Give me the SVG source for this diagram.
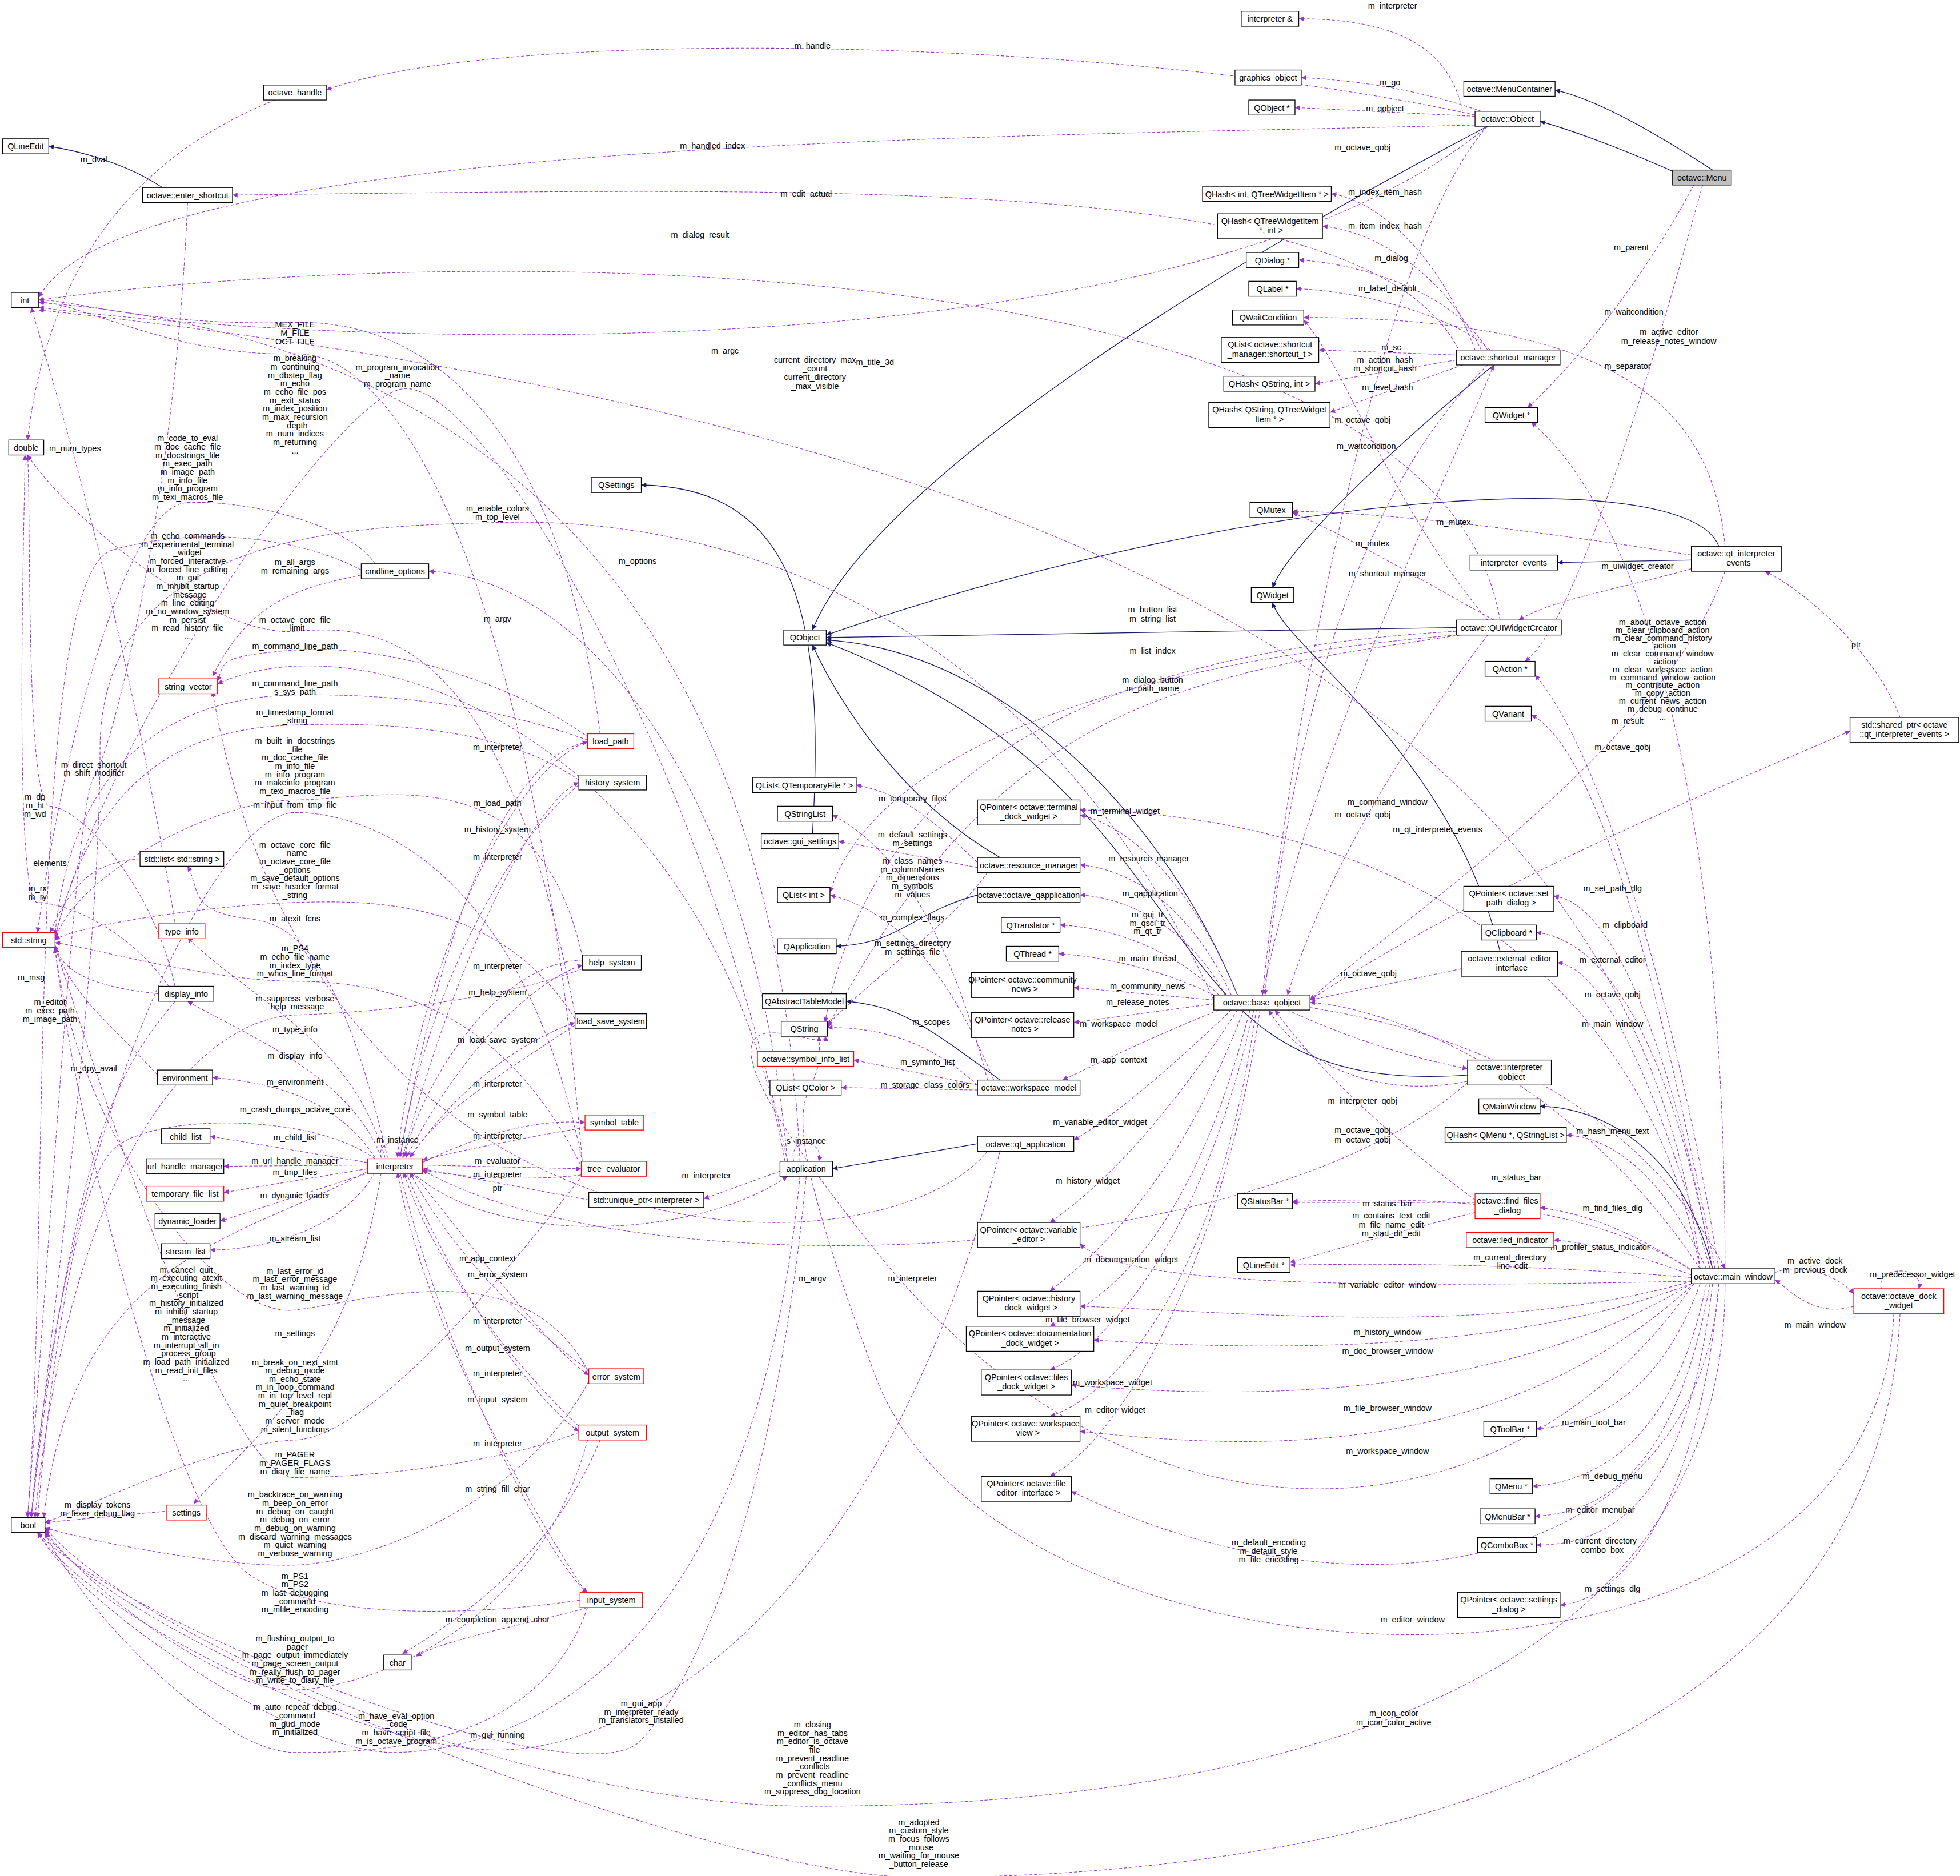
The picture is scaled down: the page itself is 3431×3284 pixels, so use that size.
<svg xmlns="http://www.w3.org/2000/svg" width="3431" height="3284" viewBox="0 0 3431 3284">
<style>
.n rect{fill:#fff;stroke:#000;stroke-width:0.6}
.n.r rect{stroke:#f00}
.n.g rect{fill:#bfbfbf}
text{font-family:"Liberation Sans",Arial,sans-serif;font-size:6.6px;text-anchor:middle;fill:#000}
.e path{fill:none;stroke:#9a32cd;stroke-width:0.5;stroke-dasharray:2.5,1.5;marker-end:url(#ap)}
.s path{fill:none;stroke:#191970;stroke-width:0.6;marker-end:url(#an)}
</style>
<defs>
<marker id="ap" viewBox="0 0 10 10" refX="10" refY="5" markerUnits="userSpaceOnUse" markerWidth="5" markerHeight="4" orient="auto"><path d="M0,0L10,5L0,10z" fill="#9a32cd"/></marker>
<marker id="an" viewBox="0 0 10 10" refX="10" refY="5" markerUnits="userSpaceOnUse" markerWidth="5" markerHeight="4" orient="auto"><path d="M0,0L10,5L0,10z" fill="#191970"/></marker>
</defs>
<rect width="3431" height="3284" fill="#fff"/>
<g transform="scale(2.1882)">
<g id="connectors">
<g class="s">
<path d="M1370,136 C1330,110 1280,80 1244,72"/>
<path d="M1345,140 C1300,120 1260,105 1232,97"/>
<path d="M1190,101 C1000,200 700,380 650,504"/>
<path d="M1353,448 L1246,450"/>
<path d="M1375,437 C1350,370 1000,390 661,508"/>
<path d="M1195,292 C1100,370 1030,440 1018,470"/>
<path d="M1165,502 L661,510"/>
<path d="M800,686 C720,640 670,560 650,516"/>
<path d="M650,667 C660,500 640,390 513,388"/>
<path d="M782,716 C730,730 720,755 669,757"/>
<path d="M800,864 C740,820 720,805 677,801"/>
<path d="M990,796 C930,650 800,520 661,512"/>
<path d="M1174,860 C900,880 990,640 661,514"/>
<path d="M782,915 L666,935"/>
<path d="M1200,761 C1160,600 1030,520 1018,482"/>
<path d="M1370,1015 C1340,900 1260,885 1232,885"/>
<path d="M130,150 C100,130 60,120 39,117"/>
</g>
<g class="e">
<path d="M1170,89 C1160,40 1120,15 1039,15"/>
<path d="M1180,92 C900,30 400,20 261,72"/>
<path d="M1185,89 C1130,70 1080,64 1041,62"/>
<path d="M1180,93 L1036,86"/>
<path d="M1180,100 C800,110 100,110 31,238"/>
<path d="M1190,101 C1100,200 1030,600 1010,796"/>
<path d="M1190,101 C950,300 300,280 31,246"/>
<path d="M1355,148 C1300,250 1240,310 1222,326"/>
<path d="M1362,148 C1320,300 1260,500 1220,529"/>
<path d="M1180,280 C1150,200 1100,160 1065,155"/>
<path d="M1185,280 C1150,210 1090,183 1058,181"/>
<path d="M1190,280 C1160,230 1080,210 1039,208"/>
<path d="M1192,280 C1160,250 1080,232 1037,231"/>
<path d="M1165,284 L1055,280"/>
<path d="M1165,288 L1052,307"/>
<path d="M1170,292 C1120,310 1090,320 1064,330"/>
<path d="M1168,282 C1100,140 700,150 186,156"/>
<path d="M1200,496 C1150,200 400,190 31,240"/>
<path d="M1190,292 C1080,400 1030,600 1012,796"/>
<path d="M1353,444 C1200,420 1100,410 1034,409"/>
<path d="M1380,437 C1370,330 1300,254 1043,254"/>
<path d="M1353,455 C1300,470 1240,480 1215,496"/>
<path d="M1380,457 C1330,600 1100,750 1048,800"/>
<path d="M1190,496 C1110,400 1080,300 1043,256"/>
<path d="M1195,496 C1130,460 1080,430 1034,410"/>
<path d="M1165,505 C900,520 700,600 660,818"/>
<path d="M1165,508 C900,530 700,600 664,714"/>
<path d="M1168,508 C950,540 800,560 662,822"/>
<path d="M1010,796 C1050,600 1150,400 1195,292"/>
<path d="M1190,508 C1120,600 1060,700 1030,796"/>
<path d="M1520,574 C1500,520 1440,470 1412,457"/>
<path d="M1048,800 C1200,700 1400,620 1480,585"/>
<path d="M1380,1015 C1380,600 1300,400 1225,338"/>
<path d="M1375,1015 C1340,800 1280,600 1228,540"/>
<path d="M1372,1015 C1330,800 1280,600 1225,572"/>
<path d="M1370,1015 C1330,800 1280,720 1243,717"/>
<path d="M1370,1015 C1330,800 1270,750 1229,746"/>
<path d="M1368,1015 C1320,850 1280,775 1246,770"/>
<path d="M1360,1015 C1250,850 1100,805 1048,802"/>
<path d="M1048,806 C1200,830 1320,900 1380,1015"/>
<path d="M1365,1015 C1330,940 1290,910 1253,908"/>
<path d="M1355,1018 C1300,980 1260,970 1232,966"/>
<path d="M1353,1020 C1300,1000 1260,993 1243,992"/>
<path d="M1355,1017 C1250,950 1100,960 1034,961"/>
<path d="M1353,1022 C1200,1010 1100,1011 1032,1012"/>
<path d="M1353,1025 C1100,1030 900,1030 864,995"/>
<path d="M1353,1025 C1200,1070 1000,1050 864,1045"/>
<path d="M1353,1027 C1200,1085 1000,1080 875,1072"/>
<path d="M1353,1027 C1200,1120 1000,1120 857,1108"/>
<path d="M1355,1027 C1200,1170 1000,1160 864,1145"/>
<path d="M1360,1027 C1330,1110 1280,1140 1229,1143"/>
<path d="M1365,1027 C1340,1150 1280,1185 1226,1189"/>
<path d="M1368,1027 C1340,1180 1280,1210 1228,1213"/>
<path d="M1370,1027 C1350,1200 1290,1236 1229,1236"/>
<path d="M1375,1027 C1360,1200 1300,1280 1248,1284"/>
<path d="M1375,1027 C1360,1250 1100,1310 857,1193"/>
<path d="M1355,1027 C1200,1250 900,1250 700,1000 S665,850 660,829"/>
<path d="M1380,1027 C1380,1400 900,1445 650,1445 S100,1300 36,1222"/>
<path d="M1515,1051 C1500,1400 800,1370 700,1100 S662,900 655,829"/>
<path d="M1520,1051 C1500,1480 900,1502 735,1502 S100,1320 36,1226"/>
<path d="M1360,1015 C1300,700 1000,650 864,648"/>
<path d="M1360,1015 C1300,500 700,320 31,248"/>
<path d="M1483,1045 C1450,1055 1430,1030 1420,1024"/>
<path d="M1420,1018 C1440,1010 1470,1020 1483,1035"/>
<path d="M1505,1031 C1500,1012 1540,1012 1535,1031"/>
<path d="M990,796 C950,700 900,660 864,652"/>
<path d="M985,796 C950,720 900,695 864,692"/>
<path d="M980,796 C950,740 900,718 864,716"/>
<path d="M975,796 C940,760 890,742 848,740"/>
<path d="M975,798 C930,775 880,765 847,763"/>
<path d="M971,800 L859,790"/>
<path d="M971,803 L859,818"/>
<path d="M975,808 C920,830 880,850 850,864"/>
<path d="M985,808 C920,870 880,900 859,912"/>
<path d="M990,808 C930,900 880,950 840,978"/>
<path d="M995,808 C940,950 880,1000 840,1033"/>
<path d="M1000,808 C950,1000 880,1040 840,1061"/>
<path d="M1003,808 C960,1000 880,1080 840,1096"/>
<path d="M1005,808 C970,1050 880,1120 840,1133"/>
<path d="M1008,808 C980,1000 900,1150 840,1181"/>
<path d="M1030,808 C1100,840 1150,850 1174,855"/>
<path d="M1174,865 C1100,880 1040,850 1015,808"/>
<path d="M1180,960 C1100,900 1050,850 1020,808"/>
<path d="M1169,775 L1048,800"/>
<path d="M1180,962 L1034,962"/>
<path d="M1180,970 C1100,990 1050,1005 1032,1010"/>
<path d="M782,690 C740,650 720,635 685,628"/>
<path d="M782,694 L671,673"/>
<path d="M790,864 C760,750 720,680 666,652"/>
<path d="M795,864 C760,780 720,730 664,716"/>
<path d="M790,698 C760,740 700,780 662,820"/>
<path d="M782,868 C740,830 700,822 662,822"/>
<path d="M782,868 L683,848"/>
<path d="M782,872 L673,870"/>
<path d="M1174,866 C1000,1020 500,1030 338,936"/>
<path d="M790,921 C700,1030 250,1020 170,553"/>
<path d="M640,929 C620,500 400,270 31,242"/>
<path d="M630,929 C600,600 450,460 343,457"/>
<path d="M628,929 C570,600 300,490 174,547"/>
<path d="M635,929 C630,910 660,910 655,929"/>
<path d="M624,937 L563,959"/>
<path d="M471,960 L338,935"/>
<path d="M330,938 C400,1000 560,990 630,941"/>
<path d="M320,926 C360,700 420,600 470,594"/>
<path d="M470,593 C400,620 330,800 318,926"/>
<path d="M322,926 C370,750 430,640 463,626"/>
<path d="M463,628 C400,680 340,800 320,926"/>
<path d="M325,926 C380,820 440,780 466,772"/>
<path d="M466,768 C400,770 340,860 323,926"/>
<path d="M328,926 C380,850 440,825 460,818"/>
<path d="M460,820 C400,860 350,890 328,926"/>
<path d="M338,930 C400,900 440,896 468,898"/>
<path d="M468,902 C420,910 370,920 338,928"/>
<path d="M338,932 L465,935"/>
<path d="M465,940 C420,945 370,942 338,936"/>
<path d="M330,938 C380,1000 440,1080 471,1100"/>
<path d="M471,1096 C420,1060 360,1000 328,938"/>
<path d="M325,938 C370,1050 440,1130 463,1145"/>
<path d="M463,1141 C420,1100 350,1020 323,938"/>
<path d="M320,938 C360,1100 440,1250 470,1274"/>
<path d="M470,1276 C420,1200 340,1060 318,938"/>
<path d="M305,938 C280,1100 200,1150 155,1203"/>
<path d="M294,930 L168,909"/>
<path d="M294,932 L179,933"/>
<path d="M294,935 L179,954"/>
<path d="M296,938 L176,977"/>
<path d="M300,938 C270,990 200,1000 168,1000"/>
<path d="M300,926 C270,880 220,866 170,862"/>
<path d="M305,926 C280,860 200,830 150,801"/>
<path d="M308,926 C280,830 200,800 150,750"/>
<path d="M305,926 C300,910 330,910 325,926"/>
<path d="M310,926 C280,800 250,740 200,735 S160,710 150,693"/>
<path d="M466,932 C430,500 330,280 235,283 S60,240 31,242"/>
<path d="M480,587 C450,350 350,255 235,258 S60,240 31,240"/>
<path d="M630,929 C560,600 380,290 318,312 S80,600 44,750"/>
<path d="M140,738 C100,500 60,365 25,246"/>
<path d="M300,451 C280,420 200,400 150,402 S50,600 30,746"/>
<path d="M971,800 C800,430 500,415 398,418 S80,420 80,600 S36,1100 25,1214"/>
<path d="M289,456 C240,430 160,420 90,440 S40,1000 22,1214"/>
<path d="M289,460 C240,470 200,480 170,541"/>
<path d="M460,811 C400,500 300,500 236,505 S60,420 22,364"/>
<path d="M471,590 C400,540 300,515 236,520 S180,530 174,545"/>
<path d="M470,592 C380,560 300,555 236,556 S60,580 44,748"/>
<path d="M463,624 C400,580 300,578 236,580 S80,600 44,750"/>
<path d="M466,766 C430,600 300,640 236,640 S60,700 44,752"/>
<path d="M466,930 C420,700 300,650 236,650 S50,900 25,1214"/>
<path d="M150,162 C140,400 90,600 75,622 S40,1000 22,1214"/>
<path d="M140,789 C120,700 60,645 40,645 S25,400 22,364"/>
<path d="M112,687 C80,690 60,700 40,746"/>
<path d="M135,789 C100,740 50,722 30,722 S20,400 20,364"/>
<path d="M127,795 C80,790 50,780 44,756"/>
<path d="M126,860 C90,820 60,800 44,758"/>
<path d="M140,801 C100,850 60,900 25,1214"/>
<path d="M460,815 C400,720 300,720 236,722 S60,740 44,752"/>
<path d="M466,935 C400,800 300,785 236,785 S80,760 44,754"/>
<path d="M466,775 C400,800 300,810 236,812 S60,900 28,1214"/>
<path d="M300,927 C250,890 120,890 90,920 S40,1100 30,1214"/>
<path d="M296,936 C200,990 60,1000 35,1214"/>
<path d="M471,1098 C420,1000 300,1040 236,1048 S60,900 44,758"/>
<path d="M466,940 C420,1000 300,1150 236,1152 S60,1210 36,1218"/>
<path d="M463,1146 C400,1170 300,1182 236,1182 S60,800 44,758"/>
<path d="M471,1105 C420,1200 300,1250 236,1252 S60,1230 36,1222"/>
<path d="M132,1209 L36,1218"/>
<path d="M464,1280 C400,1290 260,1300 200,1260 S60,900 44,758"/>
<path d="M470,1286 C420,1300 360,1310 333,1325"/>
<path d="M480,1152 C440,1250 360,1300 322,1323"/>
<path d="M470,1152 C430,1300 300,1350 236,1352 S60,1260 36,1224"/>
<path d="M470,1286 C430,1400 300,1402 236,1402 S60,1280 36,1226"/>
<path d="M640,941 C600,1350 400,1400 317,1402 S60,1280 30,1226"/>
<path d="M800,921 C700,1300 500,1400 398,1400 S80,1300 30,1226"/>
<path d="M645,941 C620,1200 560,1340 513,1392 S100,1300 30,1226"/>
<path d="M220,80 C120,120 40,200 22,352"/>
</g>
</g>
<g id="labels">
<text x="1114" y="7">m_interpreter</text>
<text x="650" y="39">m_handle</text>
<text x="1112" y="68">m_go</text>
<text x="1108" y="89">m_qobject</text>
<text x="570" y="119">m_handled_index</text>
<text x="1090" y="120">m_octave_qobj</text>
<text x="75" y="130">m_dval</text>
<text x="645" y="157">m_edit_actual</text>
<text x="1108" y="156">m_index_item_hash</text>
<text x="1108" y="183">m_item_index_hash</text>
<text x="560" y="190">m_dialog_result</text>
<text x="1113" y="209">m_dialog</text>
<text x="1305" y="200">m_parent</text>
<text x="1110" y="233">m_label_default</text>
<text x="1307" y="252">m_waitcondition</text>
<text x="1335" y="268"><tspan x="1335">m_active_editor</tspan><tspan x="1335" dy="7">m_release_notes_window</tspan></text>
<text x="1113" y="280">m_sc</text>
<text x="1108" y="290"><tspan x="1108">m_action_hash</tspan><tspan x="1108" dy="7">m_shortcut_hash</tspan></text>
<text x="1110" y="312">m_level_hash</text>
<text x="1302" y="295">m_separator</text>
<text x="580" y="283">m_argc</text>
<text x="700" y="292">m_title_3d</text>
<text x="652" y="290"><tspan x="652">current_directory_max</tspan><tspan x="652" dy="7">_count</tspan><tspan x="652" dy="7">current_directory</tspan><tspan x="652" dy="7">_max_visible</tspan></text>
<text x="1090" y="338">m_octave_qobj</text>
<text x="1093" y="359">m_waitcondition</text>
<text x="1163" y="420">m_mutex</text>
<text x="1098" y="437">m_mutex</text>
<text x="1310" y="455">m_uiwidget_creator</text>
<text x="1110" y="461">m_shortcut_manager</text>
<text x="922" y="490"><tspan x="922">m_button_list</tspan><tspan x="922" dy="7">m_string_list</tspan></text>
<text x="922" y="523">m_list_index</text>
<text x="922" y="546"><tspan x="922">m_dialog_button</tspan><tspan x="922" dy="7">m_path_name</tspan></text>
<text x="1330" y="500"><tspan x="1330">m_about_octave_action</tspan><tspan x="1330" dy="6.3">m_clear_clipboard_action</tspan><tspan x="1330" dy="6.3">m_clear_command_history</tspan><tspan x="1330" dy="6.3">_action</tspan><tspan x="1330" dy="6.3">m_clear_command_window</tspan><tspan x="1330" dy="6.3">_action</tspan><tspan x="1330" dy="6.3">m_clear_workspace_action</tspan><tspan x="1330" dy="6.3">m_command_window_action</tspan><tspan x="1330" dy="6.3">m_contribute_action</tspan><tspan x="1330" dy="6.3">m_copy_action</tspan><tspan x="1330" dy="6.3">m_current_news_action</tspan><tspan x="1330" dy="6.3">m_debug_continue</tspan><tspan x="1330" dy="6.3">...</tspan></text>
<text x="1485" y="518">ptr</text>
<text x="1302" y="579">m_result</text>
<text x="1298" y="600">m_octave_qobj</text>
<text x="1090" y="654">m_octave_qobj</text>
<text x="1150" y="666">m_qt_interpreter_events</text>
<text x="1110" y="644">m_command_window</text>
<text x="900" y="651">m_terminal_widget</text>
<text x="919" y="689">m_resource_manager</text>
<text x="920" y="717">m_qapplication</text>
<text x="918" y="734"><tspan x="918">m_gui_tr</tspan><tspan x="918" dy="6.7">m_qsci_tr</tspan><tspan x="918" dy="6.7">m_qt_tr</tspan></text>
<text x="918" y="769">m_main_thread</text>
<text x="918" y="791">m_community_news</text>
<text x="910" y="804">m_release_notes</text>
<text x="895" y="821">m_workspace_model</text>
<text x="895" y="850">m_app_context</text>
<text x="880" y="900">m_variable_editor_widget</text>
<text x="870" y="947">m_history_widget</text>
<text x="905" y="1010">m_documentation_widget</text>
<text x="870" y="1058">m_file_browser_widget</text>
<text x="890" y="1108">m_workspace_widget</text>
<text x="892" y="1130">m_editor_widget</text>
<text x="1090" y="883">m_interpreter_qobj</text>
<text x="1090" y="906">m_octave_qobj</text>
<text x="1090" y="914">m_octave_qobj</text>
<text x="1095" y="781">m_octave_qobj</text>
<text x="1290" y="713">m_set_path_dlg</text>
<text x="1300" y="742">m_clipboard</text>
<text x="1290" y="770">m_external_editor</text>
<text x="1290" y="798">m_octave_qobj</text>
<text x="1290" y="821">m_main_window</text>
<text x="1290" y="907">m_hash_menu_text</text>
<text x="1213" y="944">m_status_bar</text>
<text x="1110" y="965">m_status_bar</text>
<text x="1113" y="975"><tspan x="1113">m_contains_text_edit</tspan><tspan x="1113" dy="7">m_file_name_edit</tspan><tspan x="1113" dy="7">m_start_dir_edit</tspan></text>
<text x="1290" y="969">m_find_files_dlg</text>
<text x="1280" y="1000">m_profiler_status_indicator</text>
<text x="1208" y="1008"><tspan x="1208">m_current_directory</tspan><tspan x="1208" dy="7">_line_edit</tspan></text>
<text x="1452" y="1011"><tspan x="1452">m_active_dock</tspan><tspan x="1452" dy="7">m_previous_dock</tspan></text>
<text x="1530" y="1022">m_predecessor_widget</text>
<text x="1452" y="1062">m_main_window</text>
<text x="1110" y="1030">m_variable_editor_window</text>
<text x="1110" y="1068">m_history_window</text>
<text x="1110" y="1083">m_doc_browser_window</text>
<text x="1110" y="1129">m_file_browser_window</text>
<text x="1110" y="1163">m_workspace_window</text>
<text x="1275" y="1140">m_main_tool_bar</text>
<text x="1290" y="1183">m_debug_menu</text>
<text x="1280" y="1210">m_editor_menubar</text>
<text x="1280" y="1235"><tspan x="1280">m_current_directory</tspan><tspan x="1280" dy="7">_combo_box</tspan></text>
<text x="1015" y="1236"><tspan x="1015">m_default_encoding</tspan><tspan x="1015" dy="7">m_default_style</tspan><tspan x="1015" dy="7">m_file_encoding</tspan></text>
<text x="1290" y="1273">m_settings_dlg</text>
<text x="1130" y="1298">m_editor_window</text>
<text x="1115" y="1373"><tspan x="1115">m_icon_color</tspan><tspan x="1115" dy="7">m_icon_color_active</tspan></text>
<text x="650" y="1382"><tspan x="650">m_closing</tspan><tspan x="650" dy="6.7">m_editor_has_tabs</tspan><tspan x="650" dy="6.7">m_editor_is_octave</tspan><tspan x="650" dy="6.7">_file</tspan><tspan x="650" dy="6.7">m_prevent_readline</tspan><tspan x="650" dy="6.7">_conflicts</tspan><tspan x="650" dy="6.7">m_prevent_readline</tspan><tspan x="650" dy="6.7">_conflicts_menu</tspan><tspan x="650" dy="6.7">m_suppress_dbg_location</tspan></text>
<text x="735" y="1460"><tspan x="735">m_adopted</tspan><tspan x="735" dy="6.7">m_custom_style</tspan><tspan x="735" dy="6.7">m_focus_follows</tspan><tspan x="735" dy="6.7">_mouse</tspan><tspan x="735" dy="6.7">m_waiting_for_mouse</tspan><tspan x="735" dy="6.7">_button_release</tspan></text>
<text x="513" y="1365"><tspan x="513">m_gui_app</tspan><tspan x="513" dy="6.7">m_interpreter_ready</tspan><tspan x="513" dy="6.7">m_translators_installed</tspan></text>
<text x="730" y="641">m_temporary_files</text>
<text x="730" y="670"><tspan x="730">m_default_settings</tspan><tspan x="730" dy="6.7">m_settings</tspan></text>
<text x="730" y="691"><tspan x="730">m_class_names</tspan><tspan x="730" dy="6.7">m_columnNames</tspan><tspan x="730" dy="6.7">m_dimensions</tspan><tspan x="730" dy="6.7">m_symbols</tspan><tspan x="730" dy="6.7">m_values</tspan></text>
<text x="730" y="736">m_complex_flags</text>
<text x="730" y="757"><tspan x="730">m_settings_directory</tspan><tspan x="730" dy="6.7">m_settings_file</tspan></text>
<text x="745" y="820">m_scopes</text>
<text x="742" y="852">m_syminfo_list</text>
<text x="740" y="870">m_storage_class_colors</text>
<text x="730" y="1025">m_interpreter</text>
<text x="650" y="1025">m_argv</text>
<text x="645" y="915">s_instance</text>
<text x="565" y="943">m_interpreter</text>
<text x="390" y="1009">m_app_context</text>
<text x="510" y="451">m_options</text>
<text x="398" y="497">m_argv</text>
<text x="236" y="262"><tspan x="236">MEX_FILE</tspan><tspan x="236" dy="6.7">M_FILE</tspan><tspan x="236" dy="6.7">OCT_FILE</tspan></text>
<text x="236" y="289"><tspan x="236">m_breaking</tspan><tspan x="236" dy="6.7">m_continuing</tspan><tspan x="236" dy="6.7">m_dbstep_flag</tspan><tspan x="236" dy="6.7">m_echo</tspan><tspan x="236" dy="6.7">m_echo_file_pos</tspan><tspan x="236" dy="6.7">m_exit_status</tspan><tspan x="236" dy="6.7">m_index_position</tspan><tspan x="236" dy="6.7">m_max_recursion</tspan><tspan x="236" dy="6.7">_depth</tspan><tspan x="236" dy="6.7">m_num_indices</tspan><tspan x="236" dy="6.7">m_returning</tspan><tspan x="236" dy="6.7">...</tspan></text>
<text x="318" y="296"><tspan x="318">m_program_invocation</tspan><tspan x="318" dy="6.7">_name</tspan><tspan x="318" dy="6.7">m_program_name</tspan></text>
<text x="60" y="361">m_num_types</text>
<text x="150" y="353"><tspan x="150">m_code_to_eval</tspan><tspan x="150" dy="6.7">m_doc_cache_file</tspan><tspan x="150" dy="6.7">m_docstrings_file</tspan><tspan x="150" dy="6.7">m_exec_path</tspan><tspan x="150" dy="6.7">m_image_path</tspan><tspan x="150" dy="6.7">m_info_file</tspan><tspan x="150" dy="6.7">m_info_program</tspan><tspan x="150" dy="6.7">m_texi_macros_file</tspan></text>
<text x="398" y="409"><tspan x="398">m_enable_colors</tspan><tspan x="398" dy="6.7">m_top_level</tspan></text>
<text x="150" y="431"><tspan x="150">m_echo_commands</tspan><tspan x="150" dy="6.7">m_experimental_terminal</tspan><tspan x="150" dy="6.7">_widget</tspan><tspan x="150" dy="6.7">m_forced_interactive</tspan><tspan x="150" dy="6.7">m_forced_line_editing</tspan><tspan x="150" dy="6.7">m_gui</tspan><tspan x="150" dy="6.7">m_inhibit_startup</tspan><tspan x="150" dy="6.7">_message</tspan><tspan x="150" dy="6.7">m_line_editing</tspan><tspan x="150" dy="6.7">m_no_window_system</tspan><tspan x="150" dy="6.7">m_persist</tspan><tspan x="150" dy="6.7">m_read_history_file</tspan><tspan x="150" dy="6.7">...</tspan></text>
<text x="236" y="452"><tspan x="236">m_all_args</tspan><tspan x="236" dy="6.7">m_remaining_args</tspan></text>
<text x="236" y="498"><tspan x="236">m_octave_core_file</tspan><tspan x="236" dy="6.7">_limit</tspan></text>
<text x="236" y="519">m_command_line_path</text>
<text x="236" y="549"><tspan x="236">m_command_line_path</tspan><tspan x="236" dy="6.7">s_sys_path</tspan></text>
<text x="236" y="572"><tspan x="236">m_timestamp_format</tspan><tspan x="236" dy="6.7">_string</tspan></text>
<text x="236" y="595"><tspan x="236">m_built_in_docstrings</tspan><tspan x="236" dy="6.7">_file</tspan><tspan x="236" dy="6.7">m_doc_cache_file</tspan><tspan x="236" dy="6.7">m_info_file</tspan><tspan x="236" dy="6.7">m_info_program</tspan><tspan x="236" dy="6.7">m_makeinfo_program</tspan><tspan x="236" dy="6.7">m_texi_macros_file</tspan></text>
<text x="236" y="646">m_input_from_tmp_file</text>
<text x="75" y="614"><tspan x="75">m_direct_shortcut</tspan><tspan x="75" dy="6.7">m_shift_modifier</tspan></text>
<text x="28" y="640"><tspan x="28">m_dp</tspan><tspan x="28" dy="6.7">m_ht</tspan><tspan x="28" dy="6.7">m_wd</tspan></text>
<text x="40" y="693">elements</text>
<text x="30" y="713"><tspan x="30">m_rx</tspan><tspan x="30" dy="6.7">m_ry</tspan></text>
<text x="25" y="784">m_msg</text>
<text x="40" y="804"><tspan x="40">m_editor</tspan><tspan x="40" dy="6.7">m_exec_path</tspan><tspan x="40" dy="6.7">m_image_path</tspan></text>
<text x="75" y="857">m_dpy_avail</text>
<text x="236" y="678"><tspan x="236">m_octave_core_file</tspan><tspan x="236" dy="6.7">_name</tspan><tspan x="236" dy="6.7">m_octave_core_file</tspan><tspan x="236" dy="6.7">_options</tspan><tspan x="236" dy="6.7">m_save_default_options</tspan><tspan x="236" dy="6.7">m_save_header_format</tspan><tspan x="236" dy="6.7">_string</tspan></text>
<text x="236" y="737">m_atexit_fcns</text>
<text x="236" y="761"><tspan x="236">m_PS4</tspan><tspan x="236" dy="6.7">m_echo_file_name</tspan><tspan x="236" dy="6.7">m_index_type</tspan><tspan x="236" dy="6.7">m_whos_line_format</tspan></text>
<text x="236" y="801"><tspan x="236">m_suppress_verbose</tspan><tspan x="236" dy="6.7">_help_message</tspan></text>
<text x="236" y="826">m_type_info</text>
<text x="236" y="847">m_display_info</text>
<text x="236" y="868">m_environment</text>
<text x="236" y="890">m_crash_dumps_octave_core</text>
<text x="236" y="912">m_child_list</text>
<text x="236" y="931">m_url_handle_manager</text>
<text x="236" y="940">m_tmp_files</text>
<text x="236" y="959">m_dynamic_loader</text>
<text x="236" y="993">m_stream_list</text>
<text x="398" y="600">m_interpreter</text>
<text x="398" y="645">m_load_path</text>
<text x="398" y="666">m_history_system</text>
<text x="398" y="688">m_interpreter</text>
<text x="398" y="775">m_interpreter</text>
<text x="398" y="796">m_help_system</text>
<text x="398" y="834">m_load_save_system</text>
<text x="398" y="869">m_interpreter</text>
<text x="398" y="894">m_symbol_table</text>
<text x="398" y="911">m_interpreter</text>
<text x="398" y="931">m_evaluator</text>
<text x="398" y="942">m_interpreter</text>
<text x="398" y="953">ptr</text>
<text x="318" y="914">m_instance</text>
<text x="149" y="1018"><tspan x="149">m_cancel_quit</tspan><tspan x="149" dy="6.7">m_executing_atexit</tspan><tspan x="149" dy="6.7">m_executing_finish</tspan><tspan x="149" dy="6.7">_script</tspan><tspan x="149" dy="6.7">m_history_initialized</tspan><tspan x="149" dy="6.7">m_inhibit_startup</tspan><tspan x="149" dy="6.7">_message</tspan><tspan x="149" dy="6.7">m_initialized</tspan><tspan x="149" dy="6.7">m_interactive</tspan><tspan x="149" dy="6.7">m_interrupt_all_in</tspan><tspan x="149" dy="6.7">_process_group</tspan><tspan x="149" dy="6.7">m_load_path_initialized</tspan><tspan x="149" dy="6.7">m_read_init_files</tspan><tspan x="149" dy="6.7">...</tspan></text>
<text x="236" y="1019"><tspan x="236">m_last_error_id</tspan><tspan x="236" dy="6.7">m_last_error_message</tspan><tspan x="236" dy="6.7">m_last_warning_id</tspan><tspan x="236" dy="6.7">m_last_warning_message</tspan></text>
<text x="398" y="1022">m_error_system</text>
<text x="398" y="1059">m_interpreter</text>
<text x="236" y="1069">m_settings</text>
<text x="398" y="1081">m_output_system</text>
<text x="398" y="1101">m_interpreter</text>
<text x="398" y="1122">m_input_system</text>
<text x="236" y="1092"><tspan x="236">m_break_on_next_stmt</tspan><tspan x="236" dy="6.7">m_debug_mode</tspan><tspan x="236" dy="6.7">m_echo_state</tspan><tspan x="236" dy="6.7">m_in_loop_command</tspan><tspan x="236" dy="6.7">m_in_top_level_repl</tspan><tspan x="236" dy="6.7">m_quiet_breakpoint</tspan><tspan x="236" dy="6.7">_flag</tspan><tspan x="236" dy="6.7">m_server_mode</tspan><tspan x="236" dy="6.7">m_silent_functions</tspan></text>
<text x="398" y="1157">m_interpreter</text>
<text x="236" y="1166"><tspan x="236">m_PAGER</tspan><tspan x="236" dy="6.7">m_PAGER_FLAGS</tspan><tspan x="236" dy="6.7">m_diary_file_name</tspan></text>
<text x="398" y="1193">m_string_fill_char</text>
<text x="236" y="1198"><tspan x="236">m_backtrace_on_warning</tspan><tspan x="236" dy="6.7">m_beep_on_error</tspan><tspan x="236" dy="6.7">m_debug_on_caught</tspan><tspan x="236" dy="6.7">m_debug_on_error</tspan><tspan x="236" dy="6.7">m_debug_on_warning</tspan><tspan x="236" dy="6.7">m_discard_warning_messages</tspan><tspan x="236" dy="6.7">m_quiet_warning</tspan><tspan x="236" dy="6.7">m_verbose_warning</tspan></text>
<text x="78" y="1206"><tspan x="78">m_display_tokens</tspan><tspan x="78" dy="6.7">m_lexer_debug_flag</tspan></text>
<text x="236" y="1263"><tspan x="236">m_PS1</tspan><tspan x="236" dy="6.7">m_PS2</tspan><tspan x="236" dy="6.7">m_last_debugging</tspan><tspan x="236" dy="6.7">_command</tspan><tspan x="236" dy="6.7">m_mfile_encoding</tspan></text>
<text x="398" y="1298">m_completion_append_char</text>
<text x="236" y="1313"><tspan x="236">m_flushing_output_to</tspan><tspan x="236" dy="6.7">_pager</tspan><tspan x="236" dy="6.7">m_page_output_immediately</tspan><tspan x="236" dy="6.7">m_page_screen_output</tspan><tspan x="236" dy="6.7">m_really_flush_to_pager</tspan><tspan x="236" dy="6.7">m_write_to_diary_file</tspan></text>
<text x="236" y="1368"><tspan x="236">m_auto_repeat_debug</tspan><tspan x="236" dy="6.7">_command</tspan><tspan x="236" dy="6.7">m_gud_mode</tspan><tspan x="236" dy="6.7">m_initialized</tspan></text>
<text x="317" y="1375"><tspan x="317">m_have_eval_option</tspan><tspan x="317" dy="6.7">_code</tspan><tspan x="317" dy="6.7">m_have_script_file</tspan><tspan x="317" dy="6.7">m_is_octave_program</tspan></text>
<text x="398" y="1390">m_gui_running</text>
</g>
<g id="nodes">
<g id="interpref" class="n"><rect x="993" y="9" width="46" height="12"/><text x="1016" y="17.5">interpreter &amp;</text></g>
<g id="gobj" class="n"><rect x="988" y="56" width="53" height="12"/><text x="1014.5" y="64.5">graphics_object</text></g>
<g id="qobjp" class="n"><rect x="999" y="80" width="37" height="12"/><text x="1017.5" y="88.5">QObject *</text></g>
<g id="menucont" class="n"><rect x="1171" y="65" width="73" height="12"/><text x="1207.5" y="73.5">octave::MenuContainer</text></g>
<g id="object" class="n"><rect x="1180" y="89" width="52" height="12"/><text x="1206" y="97.5">octave::Object</text></g>
<g id="menu" class="n g"><rect x="1338" y="136" width="47" height="12"/><text x="1361.5" y="144.5">octave::Menu</text></g>
<g id="ohandle" class="n"><rect x="211" y="68" width="50" height="12"/><text x="236" y="76.5">octave_handle</text></g>
<g id="qlineedit" class="n"><rect x="2" y="111" width="37" height="12"/><text x="20.5" y="119.5">QLineEdit</text></g>
<g id="entershort" class="n"><rect x="114" y="150" width="72" height="12"/><text x="150" y="158.5">octave::enter_shortcut</text></g>
<g id="int" class="n"><rect x="9" y="234" width="22" height="12"/><text x="20" y="242.5">int</text></g>
<g id="double" class="n"><rect x="7" y="352" width="28" height="12"/><text x="21" y="360.5">double</text></g>
<g id="qhash1" class="n"><rect x="962" y="149" width="103" height="12"/><text x="1013.5" y="157.5">QHash&lt; int, QTreeWidgetItem * &gt;</text></g>
<g id="qhash2" class="n"><rect x="974" y="171" width="84" height="20"/><text x="1016" y="179"><tspan x="1016">QHash&lt; QTreeWidgetItem</tspan><tspan x="1016" dy="7.5"> *, int &gt;</tspan></text></g>
<g id="qdialog" class="n"><rect x="997" y="202" width="42" height="12"/><text x="1018" y="210.5">QDialog *</text></g>
<g id="qlabel" class="n"><rect x="999" y="225" width="38" height="12"/><text x="1018" y="233.5">QLabel *</text></g>
<g id="qwait" class="n"><rect x="986" y="248" width="57" height="12"/><text x="1014.5" y="256.5">QWaitCondition</text></g>
<g id="qlistsc" class="n"><rect x="977" y="270" width="78" height="20"/><text x="1016" y="278"><tspan x="1016">QList&lt; octave::shortcut</tspan><tspan x="1016" dy="7.5">_manager::shortcut_t &gt;</tspan></text></g>
<g id="shortmgr" class="n"><rect x="1165" y="280" width="83" height="12"/><text x="1206.5" y="288.5">octave::shortcut_manager</text></g>
<g id="qhashsi" class="n"><rect x="979" y="301" width="73" height="12"/><text x="1015.5" y="309.5">QHash&lt; QString, int &gt;</text></g>
<g id="qhashst" class="n"><rect x="967" y="322" width="97" height="20"/><text x="1015.5" y="330"><tspan x="1015.5">QHash&lt; QString, QTreeWidget</tspan><tspan x="1015.5" dy="7.5">Item * &gt;</tspan></text></g>
<g id="qwidgetp" class="n"><rect x="1188" y="326" width="42" height="12"/><text x="1209" y="334.5">QWidget *</text></g>
<g id="qsettings" class="n"><rect x="473" y="382" width="40" height="12"/><text x="493" y="390.5">QSettings</text></g>
<g id="qmutex" class="n"><rect x="1000" y="402" width="34" height="12"/><text x="1017" y="410.5">QMutex</text></g>
<g id="ievents" class="n"><rect x="1176" y="444" width="70" height="12"/><text x="1211" y="452.5">interpreter_events</text></g>
<g id="qtievents" class="n"><rect x="1353" y="437" width="72" height="20"/><text x="1389" y="445"><tspan x="1389">octave::qt_interpreter</tspan><tspan x="1389" dy="7.5">_events</tspan></text></g>
<g id="cmdline" class="n"><rect x="289" y="451" width="54" height="12"/><text x="316" y="459.5">cmdline_options</text></g>
<g id="qwidget" class="n"><rect x="1001" y="470" width="34" height="12"/><text x="1018" y="478.5">QWidget</text></g>
<g id="quiwc" class="n"><rect x="1165" y="496" width="84" height="12"/><text x="1207" y="504.5">octave::QUIWidgetCreator</text></g>
<g id="qobject" class="n"><rect x="627" y="504" width="34" height="12"/><text x="644" y="512.5">QObject</text></g>
<g id="qaction" class="n"><rect x="1188" y="529" width="40" height="12"/><text x="1208" y="537.5">QAction *</text></g>
<g id="strvec" class="n r"><rect x="127" y="543" width="47" height="12"/><text x="150.5" y="551.5">string_vector</text></g>
<g id="qvariant" class="n"><rect x="1188" y="565" width="37" height="12"/><text x="1206.5" y="573.5">QVariant</text></g>
<g id="shared" class="n"><rect x="1480" y="574" width="87" height="20"/><text x="1523.5" y="582"><tspan x="1523.5">std::shared_ptr&lt; octave</tspan><tspan x="1523.5" dy="7.5">::qt_interpreter_events &gt;</tspan></text></g>
<g id="loadpath" class="n r"><rect x="470" y="587" width="37" height="12"/><text x="488.5" y="595.5">load_path</text></g>
<g id="qlisttmp" class="n"><rect x="602" y="622" width="83" height="12"/><text x="643.5" y="630.5">QList&lt; QTemporaryFile * &gt;</text></g>
<g id="histsys" class="n"><rect x="463" y="620" width="54" height="12"/><text x="490" y="628.5">history_system</text></g>
<g id="qpterm" class="n"><rect x="782" y="640" width="82" height="20"/><text x="823" y="648"><tspan x="823">QPointer&lt; octave::terminal</tspan><tspan x="823" dy="7.5">_dock_widget &gt;</tspan></text></g>
<g id="qstrlist" class="n"><rect x="622" y="645" width="44" height="12"/><text x="644" y="653.5">QStringList</text></g>
<g id="stdlist" class="n"><rect x="112" y="681" width="67" height="12"/><text x="145.5" y="689.5">std::list&lt; std::string &gt;</text></g>
<g id="guiset" class="n"><rect x="609" y="667" width="62" height="12"/><text x="640" y="675.5">octave::gui_settings</text></g>
<g id="resmgr" class="n"><rect x="782" y="686" width="82" height="12"/><text x="823" y="694.5">octave::resource_manager</text></g>
<g id="qlistint" class="n"><rect x="622" y="710" width="42" height="12"/><text x="643" y="718.5">QList&lt; int &gt;</text></g>
<g id="qapp2" class="n"><rect x="782" y="710" width="82" height="12"/><text x="823" y="718.5">octave::octave_qapplication</text></g>
<g id="qpsetpath" class="n"><rect x="1171" y="709" width="72" height="20"/><text x="1207" y="717"><tspan x="1207">QPointer&lt; octave::set</tspan><tspan x="1207" dy="7.5">_path_dialog &gt;</tspan></text></g>
<g id="stdstring" class="n r"><rect x="2" y="746" width="42" height="12"/><text x="23" y="754.5">std::string</text></g>
<g id="typeinfo" class="n r"><rect x="127" y="739" width="37" height="12"/><text x="145.5" y="747.5">type_info</text></g>
<g id="qtrans" class="n"><rect x="801" y="734" width="47" height="12"/><text x="824.5" y="742.5">QTranslator *</text></g>
<g id="qclip" class="n"><rect x="1185" y="740" width="44" height="12"/><text x="1207" y="748.5">QClipboard *</text></g>
<g id="qapplication" class="n"><rect x="622" y="751" width="47" height="12"/><text x="645.5" y="759.5">QApplication</text></g>
<g id="qthread" class="n"><rect x="805" y="757" width="42" height="12"/><text x="826" y="765.5">QThread *</text></g>
<g id="extedit" class="n"><rect x="1169" y="761" width="77" height="20"/><text x="1207.5" y="769"><tspan x="1207.5">octave::external_editor</tspan><tspan x="1207.5" dy="7.5">_interface</tspan></text></g>
<g id="helpsys" class="n"><rect x="466" y="764" width="47" height="12"/><text x="489.5" y="772.5">help_system</text></g>
<g id="qpcomm" class="n"><rect x="777" y="778" width="82" height="20"/><text x="818" y="786"><tspan x="818">QPointer&lt; octave::community</tspan><tspan x="818" dy="7.5">_news &gt;</tspan></text></g>
<g id="dispinfo" class="n"><rect x="127" y="789" width="44" height="12"/><text x="149" y="797.5">display_info</text></g>
<g id="qatm" class="n"><rect x="610" y="795" width="67" height="12"/><text x="643.5" y="803.5">QAbstractTableModel</text></g>
<g id="baseq" class="n"><rect x="971" y="796" width="77" height="12"/><text x="1009.5" y="804.5">octave::base_qobject</text></g>
<g id="qprel" class="n"><rect x="777" y="810" width="82" height="20"/><text x="818" y="818"><tspan x="818">QPointer&lt; octave::release</tspan><tspan x="818" dy="7.5">_notes &gt;</tspan></text></g>
<g id="loadsave" class="n"><rect x="460" y="811" width="57" height="12"/><text x="488.5" y="819.5">load_save_system</text></g>
<g id="qstring" class="n"><rect x="625" y="817" width="37" height="12"/><text x="643.5" y="825.5">QString</text></g>
<g id="symlist" class="n r"><rect x="606" y="841" width="77" height="12"/><text x="644.5" y="849.5">octave::symbol_info_list</text></g>
<g id="env" class="n"><rect x="126" y="856" width="44" height="12"/><text x="148" y="864.5">environment</text></g>
<g id="iqobj" class="n"><rect x="1174" y="848" width="67" height="20"/><text x="1207.5" y="856"><tspan x="1207.5">octave::interpreter</tspan><tspan x="1207.5" dy="7.5">_qobject</tspan></text></g>
<g id="wsmodel" class="n"><rect x="782" y="864" width="82" height="12"/><text x="823" y="872.5">octave::workspace_model</text></g>
<g id="qlistcolor" class="n"><rect x="616" y="864" width="57" height="12"/><text x="644.5" y="872.5">QList&lt; QColor &gt;</text></g>
<g id="qmainwin" class="n"><rect x="1183" y="879" width="49" height="12"/><text x="1207.5" y="887.5">QMainWindow</text></g>
<g id="symtab" class="n r"><rect x="468" y="892" width="47" height="12"/><text x="491.5" y="900.5">symbol_table</text></g>
<g id="childlist" class="n"><rect x="129" y="903" width="39" height="12"/><text x="148.5" y="911.5">child_list</text></g>
<g id="qhashmenu" class="n"><rect x="1156" y="902" width="97" height="12"/><text x="1204.5" y="910.5">QHash&lt; QMenu *, QStringList &gt;</text></g>
<g id="qtapp" class="n"><rect x="782" y="909" width="77" height="12"/><text x="820.5" y="917.5">octave::qt_application</text></g>
<g id="interp" class="n r"><rect x="294" y="927" width="44" height="12"/><text x="316" y="935.5">interpreter</text></g>
<g id="treeeval" class="n r"><rect x="465" y="929" width="52" height="12"/><text x="491" y="937.5">tree_evaluator</text></g>
<g id="application" class="n"><rect x="624" y="929" width="42" height="12"/><text x="645" y="937.5">application</text></g>
<g id="urlh" class="n"><rect x="117" y="927" width="62" height="12"/><text x="148" y="935.5">url_handle_manager</text></g>
<g id="tmpfl" class="n r"><rect x="117" y="949" width="62" height="12"/><text x="148" y="957.5">temporary_file_list</text></g>
<g id="uniq" class="n"><rect x="471" y="954" width="92" height="12"/><text x="517" y="962.5">std::unique_ptr&lt; interpreter &gt;</text></g>
<g id="qstatus" class="n"><rect x="990" y="955" width="44" height="12"/><text x="1012" y="963.5">QStatusBar *</text></g>
<g id="findfiles" class="n r"><rect x="1180" y="955" width="52" height="20"/><text x="1206" y="963"><tspan x="1206">octave::find_files</tspan><tspan x="1206" dy="7.5">_dialog</tspan></text></g>
<g id="dynload" class="n"><rect x="124" y="971" width="52" height="12"/><text x="150" y="979.5">dynamic_loader</text></g>
<g id="qpvared" class="n"><rect x="782" y="978" width="82" height="20"/><text x="823" y="986"><tspan x="823">QPointer&lt; octave::variable</tspan><tspan x="823" dy="7.5">_editor &gt;</tspan></text></g>
<g id="led" class="n r"><rect x="1173" y="986" width="70" height="12"/><text x="1208" y="994.5">octave::led_indicator</text></g>
<g id="streamlist" class="n"><rect x="129" y="995" width="39" height="12"/><text x="148.5" y="1003.5">stream_list</text></g>
<g id="qlineeditp" class="n"><rect x="990" y="1006" width="42" height="12"/><text x="1011" y="1014.5">QLineEdit *</text></g>
<g id="mainwin" class="n"><rect x="1353" y="1015" width="67" height="12"/><text x="1386.5" y="1023.5">octave::main_window</text></g>
<g id="dock" class="n r"><rect x="1483" y="1031" width="72" height="20"/><text x="1519" y="1039"><tspan x="1519">octave::octave_dock</tspan><tspan x="1519" dy="7.5">_widget</tspan></text></g>
<g id="qphist" class="n"><rect x="782" y="1033" width="82" height="20"/><text x="823" y="1041"><tspan x="823">QPointer&lt; octave::history</tspan><tspan x="823" dy="7.5">_dock_widget &gt;</tspan></text></g>
<g id="qpdoc" class="n"><rect x="773" y="1061" width="102" height="20"/><text x="824" y="1069"><tspan x="824">QPointer&lt; octave::documentation</tspan><tspan x="824" dy="7.5">_dock_widget &gt;</tspan></text></g>
<g id="errsys" class="n r"><rect x="471" y="1095" width="44" height="12"/><text x="493" y="1103.5">error_system</text></g>
<g id="qpfiles" class="n"><rect x="785" y="1096" width="72" height="20"/><text x="821" y="1104"><tspan x="821">QPointer&lt; octave::files</tspan><tspan x="821" dy="7.5">_dock_widget &gt;</tspan></text></g>
<g id="qpws" class="n"><rect x="777" y="1133" width="87" height="20"/><text x="820.5" y="1141"><tspan x="820.5">QPointer&lt; octave::workspace</tspan><tspan x="820.5" dy="7.5">_view &gt;</tspan></text></g>
<g id="qtoolbar" class="n"><rect x="1187" y="1137" width="42" height="12"/><text x="1208" y="1145.5">QToolBar *</text></g>
<g id="outsys" class="n r"><rect x="463" y="1140" width="54" height="12"/><text x="490" y="1148.5">output_system</text></g>
<g id="qpfe" class="n"><rect x="785" y="1181" width="72" height="20"/><text x="821" y="1189"><tspan x="821">QPointer&lt; octave::file</tspan><tspan x="821" dy="7.5">_editor_interface &gt;</tspan></text></g>
<g id="qmenup" class="n"><rect x="1192" y="1183" width="34" height="12"/><text x="1209" y="1191.5">QMenu *</text></g>
<g id="settings" class="n r"><rect x="133" y="1204" width="32" height="12"/><text x="149" y="1212.5">settings</text></g>
<g id="qmenubar" class="n"><rect x="1184" y="1207" width="44" height="12"/><text x="1206" y="1215.5">QMenuBar *</text></g>
<g id="bool" class="n"><rect x="9" y="1214" width="27" height="12"/><text x="22.5" y="1222.5">bool</text></g>
<g id="qcombo" class="n"><rect x="1182" y="1230" width="47" height="12"/><text x="1205.5" y="1238.5">QComboBox *</text></g>
<g id="qpsettings" class="n"><rect x="1166" y="1274" width="82" height="20"/><text x="1207" y="1282"><tspan x="1207">QPointer&lt; octave::settings</tspan><tspan x="1207" dy="7.5">_dialog &gt;</tspan></text></g>
<g id="inputsys" class="n r"><rect x="464" y="1274" width="50" height="12"/><text x="489" y="1282.5">input_system</text></g>
<g id="char" class="n"><rect x="307" y="1324" width="22" height="12"/><text x="318" y="1332.5">char</text></g>
</g>
</g>
</svg>
